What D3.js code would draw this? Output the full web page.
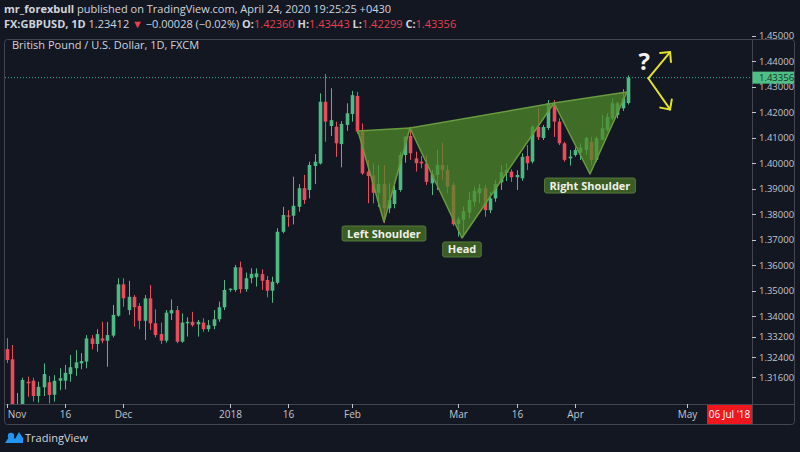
<!DOCTYPE html>
<html><head><meta charset="utf-8">
<script src="https://cdn.jsdelivr.net/npm/d3@7"></script>
<style>
html,body{margin:0;padding:0;background:#131722;}
svg{display:block;}
</style></head><body>
<svg id="c" width="800" height="452"></svg>
<script>
// ---- Data (GBPUSD daily, FXCM) ----
const startDate = "2017-11-01";
const holidays = ["2017-12-25"];
const opens = [1.3271,1.3231,1.3030,1.3052,1.3143,1.3147,1.3087,1.3121,1.3141,1.3092,
1.3147,1.3147,1.3173,1.3196,1.3215,1.3222,1.3313,1.3291,1.3313,1.3304,
1.3324,1.3402,1.3525,1.3424,1.3476,1.3440,1.3382,1.3470,1.3372,1.3330,
1.3304,1.3411,1.3424,1.3300,1.3372,1.3378,1.3368,1.3375,1.3349,1.3362,
1.3388,1.3435,1.3503,1.3503,1.3592,1.3506,1.3549,1.3553,1.3565,1.3542,
1.3500,1.3531,1.3731,1.3795,1.3794,1.3829,1.3902,1.3895,1.3989,1.3999,
1.4241,1.4146,1.4143,1.4075,1.4150,1.4193,1.4264,1.4124,1.3967,1.3952,
1.3884,1.3918,1.3823,1.3840,1.3895,1.4032,1.4107,1.4019,1.4006,1.3999,
1.3921,1.3954,1.3993,1.3973,1.3915,1.3761,1.3778,1.3806,1.3849,1.3882,
1.3902,1.3816,1.3862,1.3925,1.3962,1.3967,1.3945,1.3941,1.4028,1.4006,
1.4143,1.4099,1.4138,1.4228,1.4163,1.4078,1.4019,1.4032,1.4041,1.4052,
1.4084,1.4013,1.4092,1.4130,1.4176,1.4189,1.4215,1.42360];
const highs = [1.3314,1.3287,1.3099,1.3159,1.3163,1.3159,1.3143,1.3215,1.3166,1.3169,
1.3196,1.3209,1.3248,1.3267,1.3255,1.3326,1.3326,1.3349,1.3378,1.3378,
1.3444,1.3549,1.3549,1.3539,1.3483,1.3451,1.3483,1.3522,1.3427,1.3375,
1.3424,1.3466,1.3440,1.3411,1.3396,1.3417,1.3385,1.3392,1.3385,1.3424,
1.3457,1.3542,1.3509,1.3601,1.3614,1.3571,1.3588,1.3588,1.3584,1.3558,
1.3555,1.3745,1.3829,1.3816,1.3947,1.3918,1.3954,1.4006,1.4036,1.4274,
1.4350,1.4294,1.4163,1.4165,1.4235,1.4284,1.4280,1.4156,1.4013,1.4000,
1.3993,1.3993,1.3921,1.3915,1.4045,1.4107,1.4143,1.4045,1.4028,1.4032,
1.3973,1.4052,1.4080,1.3993,1.3925,1.3790,1.3830,1.3888,1.3908,1.3918,
1.3915,1.3888,1.3934,1.3993,1.4000,1.3976,1.3973,1.4039,1.4071,1.4150,
1.4215,1.4150,1.4248,1.4248,1.4176,1.4084,1.4052,1.4062,1.4078,1.4104,
1.4104,1.4104,1.4189,1.4196,1.4254,1.4241,1.4290,1.43443];
const lows = [1.3216,1.3040,1.3010,1.3030,1.3084,1.3065,1.3061,1.3087,1.3058,1.3065,
1.3110,1.3113,1.3143,1.3166,1.3192,1.3196,1.3270,1.3261,1.3294,1.3202,
1.3317,1.3398,1.3437,1.3405,1.3359,1.3349,1.3307,1.3346,1.3317,1.3291,
1.3296,1.3385,1.3294,1.3296,1.3320,1.3359,1.3320,1.3339,1.3339,1.3349,
1.3378,1.3424,1.3496,1.3496,1.3490,1.3496,1.3529,1.3516,1.3503,1.3474,
1.3453,1.3525,1.3725,1.3751,1.3760,1.3810,1.3840,1.3862,1.3918,1.3995,
1.4084,1.4107,1.4025,1.3984,1.4127,1.4163,1.4115,1.3954,1.3843,1.3843,
1.3829,1.3765,1.3804,1.3823,1.3888,1.4002,1.4013,1.3967,1.3980,1.3915,
1.3875,1.3895,1.3934,1.3882,1.3754,1.3712,1.3712,1.3784,1.3829,1.3843,
1.3790,1.3804,1.3849,1.3895,1.3930,1.3927,1.3895,1.3931,1.3973,1.3999,
1.4091,1.4091,1.4130,1.4103,1.4071,1.4006,1.3991,1.4026,1.4013,1.4032,
1.3993,1.4006,1.4091,1.4124,1.4169,1.4176,1.4205,1.42299];
const closes = [1.3228,1.3055,1.3052,1.3150,1.3137,1.3087,1.3123,1.3173,1.3091,1.3147,
1.3157,1.3178,1.3200,1.3219,1.3224,1.3313,1.3291,1.3330,1.3304,1.3326,
1.3405,1.3525,1.3470,1.3476,1.3435,1.3382,1.3470,1.3372,1.3326,1.3304,
1.3414,1.3424,1.3300,1.3375,1.3378,1.3365,1.3378,1.3349,1.3365,1.3388,
1.3435,1.3503,1.3508,1.3592,1.3506,1.3549,1.3566,1.3568,1.3539,1.3500,
1.3535,1.3731,1.3797,1.3790,1.3833,1.3902,1.3856,1.3993,1.4006,1.4241,
1.4163,1.4169,1.4078,1.4154,1.4196,1.4267,1.4124,1.3960,1.3950,1.3884,
1.3918,1.3823,1.3856,1.3895,1.4032,1.4104,1.4039,1.4000,1.3999,1.3927,
1.3958,1.3993,1.3973,1.3908,1.3761,1.3780,1.3812,1.3856,1.3892,1.3902,
1.3816,1.3862,1.3918,1.3965,1.3973,1.3945,1.3954,1.4025,1.4000,1.4143,
1.4102,1.4142,1.4236,1.4163,1.4078,1.4013,1.4026,1.4052,1.4062,1.4098,
1.4013,1.4098,1.4137,1.4182,1.4235,1.4235,1.4255,1.43356];

const priceTicks = [1.45,1.44,1.43,1.42,1.41,1.40,1.39,1.38,1.37,1.36,1.35,1.34,1.332,1.324,1.316];
const timeTickDates = ["2017-11-01","2017-11-16","2017-12-01","2018-01-01","2018-01-16","2018-02-01","2018-03-01","2018-03-16","2018-04-02","2018-05-01"];
const timeTickLabels = ["Nov","16","Dec","2018","16","Feb","Mar","16","Apr","May"];

// head & shoulders drawing anchors (bar position, price)
const hsBars   = [66.15, 71.05, 75.94, 85.73, 103.05, 109.82, 116.79];
const hsPrices = [1.41263, 1.37694, 1.41380, 1.37067, 1.42361, 1.39576, 1.42792];
const hsLabels = ["Left Shoulder","Head","Right Shoulder"];
// "?" arrows drawing anchors
const arrowBars   = [120.8, 124.9, 124.9];
const arrowPrices = [1.4333, 1.4436, 1.4211];

const symbolLine = {sym:"FX:GBPUSD, 1D", last:"1.23412", chg:"\u22120.00028 (\u22120.02%)"};
const cursorDateLabel = "06 Jul '18";

// ---- Layout ----
const W=800,H=452;
const L=5, R=752, T=39, B=404;
const svg=d3.select("#c");
const font='"Open Sans", "Noto Sans", sans-serif';
const up="#4fb985", dn="#ec4b5b", txt="#d1d4dc", axisTxt="#c3c6ce", border="#434651";

// trading days
const parse=d3.utcParse("%Y-%m-%d"), fmt=d3.utcFormat("%Y-%m-%d");
const days=d3.utcDay.range(parse(startDate), parse("2018-08-01"))
  .filter(d=>d.getUTCDay()!==0 && d.getUTCDay()!==6 && !holidays.includes(fmt(d)))
  .map(fmt);
const idxOf = s => days.indexOf(s);

const x=d3.scaleLinear().domain([-0.29,140.32]).range([L,R]);
const y=d3.scaleLinear().domain([1.30557,1.44871]).range([B,T]);

svg.append("rect").attr("width",W).attr("height",H).attr("fill","#131722");

// header
const h1=svg.append("text").attr("x",4).attr("y",13).attr("font-family",font).attr("font-size",11).attr("fill",txt);
h1.append("tspan").attr("font-weight","bold").text("mr_forexbull");
h1.append("tspan").text(" published on TradingView.com, April 24, 2020 19:25:25 +0430");
const h2=svg.append("text").attr("x",4).attr("y",28).attr("font-family",font).attr("font-size",11).attr("fill",txt);
const last=opens.length-1;
const f5=d3.format(".5f");
h2.append("tspan").attr("font-weight","bold").text(symbolLine.sym);
h2.append("tspan").text(" "+symbolLine.last+" ");
h2.append("tspan").attr("fill","#e8404f").text("\u25BC");
h2.append("tspan").text(" "+symbolLine.chg+" ");
[["O:",opens[last]],["H:",highs[last]],["L:",lows[last]],["C:",closes[last]]].forEach(([k,v],i)=>{
  h2.append("tspan").attr("font-weight","bold").text((i?" ":"")+k);
  h2.append("tspan").attr("fill","#e8404f").text(f5(v));
});

// frame
svg.append("rect").attr("x",4.5).attr("y",T+0.5).attr("width",790).attr("height",385)
  .attr("rx",3).attr("fill","none").attr("stroke",border);
svg.append("line").attr("x1",R+0.5).attr("x2",R+0.5).attr("y1",T).attr("y2",424).attr("stroke",border);
svg.append("line").attr("x1",4).attr("x2",794).attr("y1",B+0.5).attr("y2",B+0.5).attr("stroke",border);

svg.append("text").attr("x",12).attr("y",49).attr("font-family",font).attr("font-size",11)
  .attr("fill",txt).text("British Pound / U.S. Dollar, 1D, FXCM");

// clip
svg.append("clipPath").attr("id","plot").append("rect").attr("x",L).attr("y",T+1).attr("width",R-L).attr("height",B-T-1);
const g=svg.append("g").attr("clip-path","url(#plot)");

// candles
const bars=d3.range(opens.length);
g.selectAll("line.w").data(bars).join("line").attr("class","w")
  .attr("x1",i=>Math.round(x(i))+0.5).attr("x2",i=>Math.round(x(i))+0.5)
  .attr("y1",i=>y(highs[i])).attr("y2",i=>y(lows[i]))
  .attr("stroke",i=>closes[i]>=opens[i]?up:dn).attr("stroke-width",1);
g.selectAll("rect.b").data(bars).join("rect").attr("class","b")
  .attr("x",i=>Math.round(x(i))+0.5-1.8).attr("width",3.6)
  .attr("y",i=>y(Math.max(opens[i],closes[i])))
  .attr("height",i=>Math.max(1,Math.abs(y(opens[i])-y(closes[i]))))
  .attr("fill",i=>closes[i]>=opens[i]?up:dn);

// last price dotted line
g.append("line").attr("x1",L).attr("x2",R).attr("y1",y(closes[last])).attr("y2",y(closes[last]))
  .attr("stroke","#34a79a").attr("stroke-dasharray","1,2").attr("stroke-width",1);

// H&S pattern triangles
const pts=hsBars.map((b,i)=>[x(b),y(hsPrices[i])]);
[[0,1,2],[2,3,4],[4,5,6]].forEach(t=>{
  g.append("path").attr("d","M"+t.map(k=>pts[k].join(",")).join("L")+"Z")
   .attr("fill","#4f8a2a").attr("fill-opacity",0.74)
   .attr("stroke","#6a9a40").attr("stroke-width",1.5).attr("stroke-linejoin","round");
});
// labels
[1,3,5].forEach((k,j)=>{
  const lg=g.append("g");
  const t=lg.append("text").attr("x",pts[k][0]).attr("y",pts[k][1]+15.5).attr("text-anchor","middle")
    .attr("font-family",font).attr("font-size",11).attr("font-weight","bold").attr("fill","#eef0e8").text(hsLabels[j]);
  const w=t.node().getComputedTextLength()+10;
  lg.insert("rect","text").attr("x",pts[k][0]-w/2).attr("y",pts[k][1]+4).attr("width",w).attr("height",15)
    .attr("rx",2).attr("fill","#3b5c25").attr("stroke","#557a3a").attr("stroke-width",1);
});

// question mark + arrows
const ap=arrowBars.map((b,i)=>[x(b),y(arrowPrices[i])]);
const yel="#e2e22a";
[1,2].forEach(k=>{
  g.append("line").attr("x1",ap[0][0]).attr("y1",ap[0][1]).attr("x2",ap[k][0]).attr("y2",ap[k][1])
   .attr("stroke",yel).attr("stroke-width",2).attr("stroke-linecap","round");
  const a=Math.atan2(ap[0][1]-ap[k][1],ap[0][0]-ap[k][0]);
  [a-0.78,a+0.78].forEach(b=>{
    g.append("line").attr("x1",ap[k][0]).attr("y1",ap[k][1])
     .attr("x2",ap[k][0]+10*Math.cos(b)).attr("y2",ap[k][1]+10*Math.sin(b))
     .attr("stroke",yel).attr("stroke-width",2).attr("stroke-linecap","round");
  });
});
g.append("text").attr("x",ap[0][0]-4).attr("y",ap[0][1]-8).attr("text-anchor","middle")
  .attr("font-family",font).attr("font-size",24).attr("font-weight","bold").attr("fill","#f2f2f2").text("?");

// price axis
const pa=svg.append("g");
const ly=y(closes[last]);
priceTicks.forEach(v=>{
  pa.append("line").attr("x1",R).attr("x2",R+4).attr("y1",Math.round(y(v))+0.5).attr("y2",Math.round(y(v))+0.5).attr("stroke",axisTxt);
  // the 1.43000 label sits mostly behind the last-price tag, as in the original
  if (Math.abs(y(v)-ly) < 9) return;
  pa.append("text").attr("x",R+7).attr("y",y(v)+3.5).attr("font-family",font).attr("font-size",9.5).attr("fill",axisTxt).text(f5(v));
});
// last price label
pa.append("rect").attr("x",R+0.5).attr("y",ly-6).attr("width",41.5).attr("height",12).attr("fill","#4fbf86");
pa.append("text").attr("x",R+7).attr("y",ly+3.5).attr("font-family",font).attr("font-size",9.5).attr("fill","#0f3524").text(f5(closes[last]));
// visible lower sliver of the hidden 1.43000 label
const hidden=priceTicks.filter(v=>Math.abs(y(v)-ly)<9);
svg.append("clipPath").attr("id","sliver").append("rect").attr("x",R+1).attr("y",ly+6).attr("width",42).attr("height",6);
hidden.forEach(v=>{
  svg.append("text").attr("clip-path","url(#sliver)").attr("x",R+7).attr("y",y(v)+3.5).attr("font-family",font)
    .attr("font-size",9.5).attr("fill",axisTxt).text(f5(v));
});

// time axis
const ta=svg.append("g");
svg.append("clipPath").attr("id","tax").append("rect").attr("x",L).attr("y",B).attr("width",R-L).attr("height",20);
const tg=ta.append("g").attr("clip-path","url(#tax)");
timeTickDates.forEach((d,i)=>{
  const xx=Math.round(x(idxOf(d)))+0.5;
  tg.append("line").attr("x1",xx).attr("x2",xx).attr("y1",B).attr("y2",B+4).attr("stroke",axisTxt);
  tg.append("text").attr("x",Math.max(xx, L+12)).attr("y",418).attr("text-anchor","middle").attr("font-family",font)
    .attr("font-size",10).attr("fill",axisTxt).text(timeTickLabels[i]);
});
ta.append("rect").attr("x",707).attr("y",B+1).attr("width",R-707).attr("height",19).attr("fill","#f0161e");
ta.append("text").attr("x",(707+R)/2).attr("y",418).attr("text-anchor","middle").attr("font-family",font)
  .attr("font-size",10).attr("fill","#fff").text(cursorDateLabel);

// TradingView logo
const lgo=svg.append("g").attr("transform","translate(5,431)");
lgo.append("path").attr("d","M0,12 L6,3 L10,8 L14,1 L18,7 L18,12 Z").attr("fill","#2196f3");
lgo.append("circle").attr("cx",6).attr("cy",5).attr("r",3.2).attr("fill","#2196f3");
svg.append("text").attr("x",25).attr("y",442).attr("font-family",font).attr("font-size",11).attr("fill",txt).text("TradingView");
</script>
</body></html>
